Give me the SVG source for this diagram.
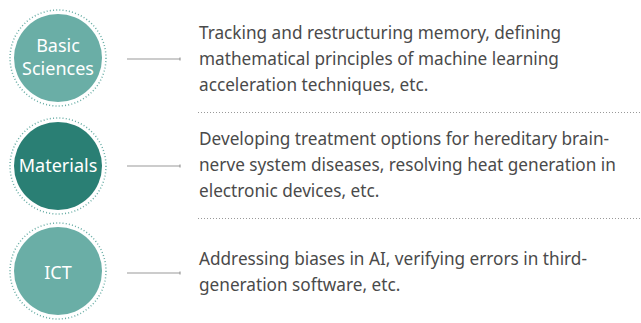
<svg xmlns="http://www.w3.org/2000/svg" width="641" height="323" viewBox="0 0 641 323">
<style>
.ring{fill:none;stroke:#6aaea6;stroke-width:1.5;stroke-dasharray:1 2.2}
.light{fill:#6aaea6}
.dark{fill:#2a7f74}
.lbl{font-family:"Noto Sans","Open Sans",sans-serif;font-size:18px;fill:#ffffff;text-anchor:middle}
.desc{font-family:"Noto Sans","Open Sans",sans-serif;font-size:17.2px;fill:#4a4a4a}
.conn{stroke:#9a9a9a;stroke-width:1.2;fill:none}
.sep{stroke:#999999;stroke-width:1;stroke-dasharray:1 2;fill:none}
</style>
<rect width="641" height="323" fill="#ffffff"/>
<g id="node-basic">
<circle class="ring" cx="58" cy="58" r="48"/>
<circle class="light" cx="58" cy="58" r="44"/>
<text class="lbl" x="58" y="52">Basic</text>
<text class="lbl" x="58" y="75">Sciences</text>
</g>
<g id="node-materials">
<circle class="ring" cx="58" cy="166" r="48"/>
<circle class="dark" cx="58" cy="166" r="44"/>
<text class="lbl" x="58" y="172">Materials</text>
</g>
<g id="node-ict">
<circle class="ring" cx="58" cy="271" r="48"/>
<circle class="light" cx="58" cy="271" r="44"/>
<text class="lbl" x="58" y="279">ICT</text>
</g>
<g id="connectors">
<path class="conn" d="M127 59H180M180 57.5V60.5"/>
<path class="conn" d="M127 166H180M180 164.5V167.5"/>
<path class="conn" d="M127 273H180M180 271.5V274.5"/>
</g>
<g id="desc-basic">
<text class="desc" x="199" y="39">Tracking and restructuring memory, defining</text>
<text class="desc" x="199" y="65">mathematical principles of machine learning</text>
<text class="desc" x="199" y="91">acceleration techniques, etc.</text>
</g>
<g id="desc-materials">
<text class="desc" x="199" y="145">Developing treatment options for hereditary brain-</text>
<text class="desc" x="199" y="171">nerve system diseases, resolving heat generation in</text>
<text class="desc" x="199" y="197">electronic devices, etc.</text>
</g>
<g id="desc-ict">
<text class="desc" x="199" y="265">Addressing biases in AI, verifying errors in third-</text>
<text class="desc" x="199" y="291">generation software, etc.</text>
</g>
<g id="separators">
<path class="sep" d="M198 112.5H640"/>
<path class="sep" d="M198 218.5H640"/>
</g>
</svg>
